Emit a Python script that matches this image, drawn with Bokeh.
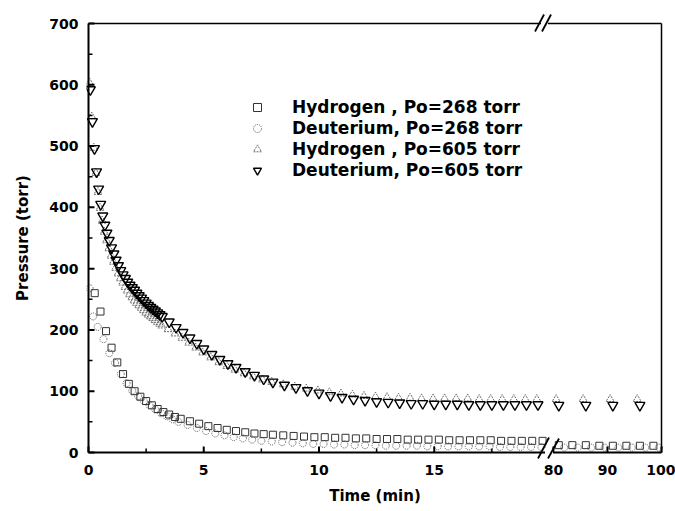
from bokeh.plotting import figure
from bokeh.models import (FixedTicker, CustomJSTickFormatter, Legend, LegendItem,
                          ColumnDataSource)
from bokeh.embed import file_html
from bokeh.resources import INLINE

# ---------------- data (time in minutes, pressure in torr) ----------------
h268_t = [0.27, 0.52, 0.76, 1.0, 1.25, 1.5, 1.75, 2.0, 2.25, 2.5, 2.75, 3.0, 3.25, 3.5, 3.75, 4.0,
          4.4, 4.8, 5.2, 5.6, 6.0, 6.4, 6.8, 7.2, 7.6, 8.0,
          8.45, 8.9, 9.35, 9.8, 10.25, 10.7, 11.15, 11.6, 12.05, 12.5, 12.95, 13.4, 13.85,
          14.3, 14.75, 15.2, 15.65, 16.1, 16.55, 17.0, 17.45, 17.9, 18.35, 18.8, 19.25, 19.7,
          81, 83.5, 86, 88.5, 91, 93.5, 96, 98.5]
h268_p = [260, 230, 198, 171, 147, 128, 112, 100, 91, 84, 77, 71, 66, 62, 58, 55,
          51, 47, 43, 40, 37, 35, 33, 31, 30, 29,
          28, 27, 26, 25, 25, 24, 24, 23, 23, 22, 22, 22, 21,
          21, 21, 21, 20, 20, 20, 20, 20, 19, 19, 19, 19, 19,
          12, 12, 12, 11, 11, 11, 11, 11]

d268_t = [0.05, 0.2, 0.4, 0.65, 0.9, 1.15, 1.4, 1.65, 1.9, 2.15, 2.4, 2.65, 2.9, 3.15, 3.4, 3.65, 3.9,
          4.3, 4.7, 5.1, 5.5, 5.9, 6.3, 6.7, 7.1, 7.5,
          7.95, 8.4, 8.85, 9.3, 9.75, 10.2, 10.65, 11.1, 11.55, 12.0, 12.45, 12.9, 13.35, 13.8,
          14.25, 14.7, 15.15, 15.6, 16.05, 16.5, 16.95, 17.4, 17.85, 18.3, 18.75, 19.2, 19.65,
          82, 84.5, 87, 89.5, 92, 94.5, 97, 99.5]
d268_p = [268, 222, 205, 185, 162, 146, 128, 113, 101, 92, 84, 77, 70, 64, 59, 54, 50,
          45, 40, 35, 31, 28, 25, 23, 21, 19,
          18, 17, 16, 15, 14, 14, 13, 13, 12, 12, 12, 11, 11, 11,
          11, 10, 10, 10, 10, 10, 10, 10, 9, 9, 9, 9, 9,
          8, 8, 8, 8, 8, 8, 8, 8]

h605_t = [0.05, 0.14, 0.23, 0.32, 0.41, 0.5, 0.59, 0.68,
          0.78, 0.88, 0.98, 1.08, 1.18, 1.28, 1.38, 1.48, 1.58, 1.68, 1.78, 1.88, 1.98, 2.08,
          2.18, 2.28, 2.38, 2.48, 2.58, 2.68, 2.78, 2.88, 2.98, 3.08, 3.18,
          3.45, 3.75, 4.05, 4.35, 4.65, 4.95, 5.3, 5.65, 6.0, 6.35, 6.75, 7.15, 7.55, 7.95,
          8.45, 8.95, 9.45, 9.95, 10.45, 10.95, 11.45, 11.95, 12.45, 12.95, 13.45, 13.95,
          14.45, 14.95, 15.45, 15.95, 16.45, 16.95, 17.45, 17.95, 18.45, 18.95, 19.45,
          80.5, 85.5, 90.5, 95.5]
h605_p = [603, 548, 497, 456, 425, 399, 378, 360,
          346, 333, 321, 311, 301, 292, 284, 277, 270, 264, 258, 253, 248, 244,
          240, 236, 232, 228, 225, 222, 219, 216, 213, 210, 207,
          201, 194, 187, 179, 171, 163, 155, 147, 141, 135, 129, 124, 119, 115,
          111, 107, 104, 101, 98, 96, 94, 92, 91, 90, 89, 89,
          88, 88, 88, 88, 88, 87, 87, 87, 87, 87, 87,
          87, 87, 87, 87]

d605_t = [0.08, 0.17, 0.26, 0.35, 0.44, 0.53, 0.62, 0.71,
          0.8, 0.9, 1.0, 1.1, 1.2, 1.3, 1.4, 1.5, 1.6, 1.7, 1.8, 1.9, 2.0, 2.1, 2.2,
          2.3, 2.4, 2.5, 2.6, 2.7, 2.8, 2.9, 3.0, 3.1, 3.2,
          3.5, 3.8, 4.1, 4.4, 4.7, 5.0, 5.35, 5.7, 6.05, 6.4, 6.8, 7.2, 7.6, 8.0,
          8.5, 9.0, 9.5, 10.0, 10.5, 11.0, 11.5, 12.0, 12.5, 13.0, 13.5, 14.0,
          14.5, 15.0, 15.5, 16.0, 16.5, 17.0, 17.5, 18.0, 18.5, 19.0, 19.5,
          81, 86, 91, 96]
d605_p = [592, 540, 496, 458, 430, 405, 386, 371,
          358, 346, 334, 324, 314, 305, 297, 290, 284, 278, 273, 269, 265, 260, 256,
          252, 248, 244, 240, 237, 234, 231, 228, 225, 222,
          213, 204, 196, 187, 178, 169, 160, 152, 145, 139, 132, 126, 120, 115,
          110, 106, 101, 97, 93, 90, 87, 85, 83, 82, 81, 80,
          80, 79, 79, 79, 78, 78, 78, 78, 78, 78, 78,
          77, 77, 77, 77]

labels = ["Hydrogen , Po=268 torr", "Deuterium, Po=268 torr",
          "Hydrogen , Po=605 torr", "Deuterium, Po=605 torr"]

x_tick_minutes = [0, 5, 10, 15, 80, 90, 100]
x_minor_minutes = [2.5, 7.5, 12.5, 17.5]
y_ticks = [0, 100, 200, 300, 400, 500, 600, 700]
y_minor = [50, 150, 250, 350, 450, 550, 650]

# ---------------- broken time axis: 0-20 min, then 80-100 min ----------------
BREAK_LO = 20.0
BREAK_HI = 80.0
SEG2_X0 = 20.17
SEG2_SCALE = 0.2345
X_MAX = SEG2_X0 + (100 - BREAK_HI) * SEG2_SCALE
Y_MAX = 700


def xv(ts):
    return [t if t <= BREAK_LO else SEG2_X0 + (t - BREAK_HI) * SEG2_SCALE for t in ts]


FONT = "DejaVu Sans"
PLOT_W = 573            # pixel width of the 0..X_MAX data area
PLOT_H = 429            # pixel height of the 0..700 data area
PAD = 12                # extra frame room above/below so break marks are not clipped
PAD_S = 2               # extra frame room left/right so frame lines are not clipped
ux = X_MAX / PLOT_W     # data units per pixel
uy = Y_MAX / PLOT_H

p = figure(width=675, height=511,
           x_range=(-PAD_S * ux, X_MAX + PAD_S * ux), y_range=(-PAD * uy, Y_MAX + PAD * uy),
           output_backend="svg", toolbar_location=None,
           min_border_left=88 - PAD_S, min_border_right=14 - PAD_S,
           min_border_top=23 - PAD, min_border_bottom=59 - PAD)
p.background_fill_color = "white"
p.border_fill_color = "white"
p.grid.visible = False
p.outline_line_color = None

s1 = ColumnDataSource(dict(x=xv(h268_t), y=h268_p))
s2 = ColumnDataSource(dict(x=xv(d268_t), y=d268_p))
s3 = ColumnDataSource(dict(x=xv(h605_t), y=h605_p))
s4 = ColumnDataSource(dict(x=xv(d605_t), y=d605_p))

r2 = p.scatter("x", "y", source=s2, marker="circle", size=7, fill_color=None,
               line_color="#5a5a5a", line_width=1, line_dash="1 1")
r3 = p.scatter("x", "y", source=s3, marker="triangle", size=8, fill_color=None,
               line_color="#6a6a6a", line_width=1, line_dash="2 1")
r1 = p.scatter("x", "y", source=s1, marker="square", size=7, fill_color=None,
               line_color="#333333", line_width=1)
r4 = p.scatter("x", "y", source=s4, marker="inverted_triangle", size=10, fill_color=None,
               line_color="black", line_width=1.4)

legend = Legend(items=[LegendItem(label=labels[0], renderers=[r1]),
                       LegendItem(label=labels[1], renderers=[r2]),
                       LegendItem(label=labels[2], renderers=[r3]),
                       LegendItem(label=labels[3], renderers=[r4])],
                location=(159 + PAD_S, 272 + PAD), orientation="vertical")
legend.border_line_color = None
legend.background_fill_alpha = 0
legend.padding = 0
legend.margin = 0
legend.spacing = 1
legend.glyph_width = 20
legend.glyph_height = 20
legend.label_height = 20
legend.label_standoff = 25
legend.label_text_font = FONT
legend.label_text_font_style = "bold"
legend.label_text_font_size = "17px"
legend.label_text_color = "black"
p.add_layout(legend, "center")

# axes: Bokeh axes carry the tick labels and titles; lines/ticks are drawn below
xa = p.xaxis[0]
xa.ticker = FixedTicker(ticks=xv(x_tick_minutes), minor_ticks=[])
xa.formatter = CustomJSTickFormatter(args=dict(x0=SEG2_X0, sc=SEG2_SCALE, lo=BREAK_LO, hi=BREAK_HI),
                                     code="""
    if (tick > lo + 0.05) { return String(Math.round(hi + (tick - x0) / sc)); }
    return String(Math.round(tick));
""")
ya = p.yaxis[0]
ya.ticker = FixedTicker(ticks=y_ticks, minor_ticks=[])

for ax in (xa, ya):
    ax.axis_line_color = None
    ax.major_tick_line_color = None
    ax.minor_tick_line_color = None
    ax.major_tick_in = 0
    ax.major_tick_out = 0
    ax.minor_tick_in = 0
    ax.minor_tick_out = 0
    ax.major_label_text_font = FONT
    ax.major_label_text_font_style = "bold"
    ax.major_label_text_font_size = "14px"
    ax.major_label_text_color = "black"
    ax.axis_label_text_font = FONT
    ax.axis_label_text_font_style = "bold"
    ax.axis_label_text_font_size = "15px"
    ax.axis_label_text_color = "black"

xa.axis_label = "Time (min)"
xa.major_label_standoff = 0
xa.axis_label_standoff = 9
ya.axis_label = "Pressure (torr)"
ya.major_label_standoff = 8
ya.axis_label_standoff = 14

# frame: thick left/bottom axis lines, thinner top/right lines
p.segment(x0=[0, 0], y0=[0, 0], x1=[0, X_MAX], y1=[Y_MAX, 0], line_color="black", line_width=2)
p.segment(x0=[0, X_MAX], y0=[Y_MAX, 0], x1=[X_MAX, X_MAX], y1=[Y_MAX, Y_MAX],
          line_color="black", line_width=1.5)

# inward tick marks
xt = xv(x_tick_minutes)
xm = xv(x_minor_minutes)
p.segment(x0=xt, y0=[0] * len(xt), x1=xt, y1=[6 * uy] * len(xt), line_color="black", line_width=2)
p.segment(x0=xm, y0=[0] * len(xm), x1=xm, y1=[4 * uy] * len(xm), line_color="black", line_width=1.5)
p.segment(x0=[0] * len(y_ticks), y0=y_ticks, x1=[6 * ux] * len(y_ticks), y1=y_ticks,
          line_color="black", line_width=2)
p.segment(x0=[0] * len(y_minor), y0=y_minor, x1=[4 * ux] * len(y_minor), y1=y_minor,
          line_color="black", line_width=1.5)

# axis-break marks: white gap in the frame line, then two slanted strokes
bx = BREAK_LO - 0.02
gap = p.segment(x0=[bx - 4 * ux, bx - 8 * ux], y0=[0, Y_MAX],
                x1=[bx + 4 * ux, bx - 1 * ux], y1=[0, Y_MAX],
                line_color="white", line_width=4)
gap.level = "overlay"
sl = p.segment(x0=[bx - 11 * ux, bx - 1 * ux, bx - 14 * ux, bx - 7 * ux],
               y0=[-6 * uy, -6 * uy, Y_MAX - 8 * uy, Y_MAX - 8 * uy],
               x1=[bx + 0 * ux, bx + 10 * ux, bx - 5 * ux, bx + 2 * ux],
               y1=[15 * uy, 14 * uy, Y_MAX + 9 * uy, Y_MAX + 9 * uy],
               line_color="black", line_width=1.8)
sl.level = "overlay"

open("out.html", "w").write(file_html(p, INLINE))
